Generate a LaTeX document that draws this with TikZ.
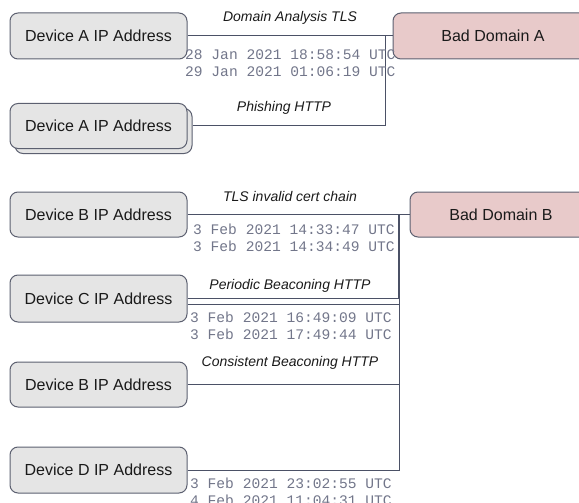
\documentclass[tikz,border=0pt]{standalone}
\usepackage{fontspec}
\setmainfont{Liberation Sans}
\newfontfamily\tsfont{Liberation Mono}
\definecolor{edge}{HTML}{4B5166}
\definecolor{boxline}{HTML}{5C6070}
\definecolor{boxfill}{HTML}{E5E5E5}
\definecolor{badfill}{HTML}{E8CACA}
\definecolor{tscol}{HTML}{72768A}
\definecolor{ink}{HTML}{1A1A1A}
\tikzset{
  devbox/.style={draw=boxline, fill=boxfill, line width=1pt, rounded corners=8pt,
    minimum width=177pt, minimum height=46pt, inner sep=0pt,
    font=\fontsize{16}{19}\selectfont, text=ink},
  badbox/.style={draw=boxline, fill=badfill, line width=1pt, rounded corners=8pt,
    minimum height=46pt, inner sep=0pt,
    font=\fontsize{16}{19}\selectfont, text=ink},
  conn/.style={draw=edge, line width=1pt},
  lbl/.style={font=\fontsize{14}{16}\selectfont\itshape, text=ink, inner sep=0pt},
  stamp/.style={font=\tsfont\fontsize{14.6}{17}\selectfont, text=tscol, inner sep=0pt,
    align=left, anchor=west},
}
\begin{document}
\begin{tikzpicture}[x=1pt, y=-1pt]
\useasboundingbox (0,0) rectangle (579,503);

% --- first group: Bad Domain A ---
\node[devbox] (devA1) at (98.5,36) {Device A IP Address};
\node[badbox, minimum width=200pt] (badA) at (493,36) {Bad Domain A};
\node[devbox, minimum height=45pt] (devA2b) at (103.5,131) {};
\node[devbox, minimum height=45pt] (devA2) at (98.5,126) {Device A IP Address};

\coordinate (jA) at (385,36);
\draw[conn] (devA1) -- (badA);
\draw[conn] (devA2.east -| devA2b.east) -| (jA);

\node[lbl] (lA1) at (290,18) {Domain Analysis TLS};
\node[lbl] (lA2) at (284,108) {Phishing HTTP};
\node[stamp] (tA) at (185,63.5) {28 Jan 2021 18:58:54 UTC\\29 Jan 2021 01:06:19 UTC};

% --- second group: Bad Domain B ---
\node[devbox, minimum height=45pt] (devB1) at (98.5,214.5) {Device B IP Address};
\node[badbox, minimum width=182pt, minimum height=45pt] (badB) at (501,214.5) {Bad Domain B};
\node[devbox, minimum height=47pt] (devC) at (98.5,298.5) {Device C IP Address};
\node[devbox, minimum height=45pt] (devB2) at (98.5,384.5) {Device B IP Address};
\node[devbox] (devD) at (98.5,470) {Device D IP Address};

\coordinate (jB) at (399,214.5);
\coordinate (jB2) at (398,214.5);
\draw[conn] (devB1) -- (badB);
\draw[conn] ([yshift=0.5pt]devC.east) -| (jB2);
\draw[conn] ([yshift=-5.5pt]devC.east) -| (jB);
\draw[conn] (devB2.east) -| (jB);
\draw[conn] (devD.east) -| (jB);

\node[lbl] (lB1) at (290,196) {TLS invalid cert chain};
\node[lbl] (lB2) at (290,286) {Periodic Beaconing HTTP};
\node[lbl] (lB3) at (290,363) {Consistent Beaconing HTTP};
\node[stamp] (tB1) at (193,237.5) {3 Feb 2021 14:33:47 UTC\\3 Feb 2021 14:34:49 UTC};
\node[stamp] (tB2) at (190,325.5) {3 Feb 2021 16:49:09 UTC\\3 Feb 2021 17:49:44 UTC};
\node[stamp] (tB3) at (190,491.5) {3 Feb 2021 23:02:55 UTC\\4 Feb 2021 11:04:31 UTC};
\end{tikzpicture}
\end{document}
